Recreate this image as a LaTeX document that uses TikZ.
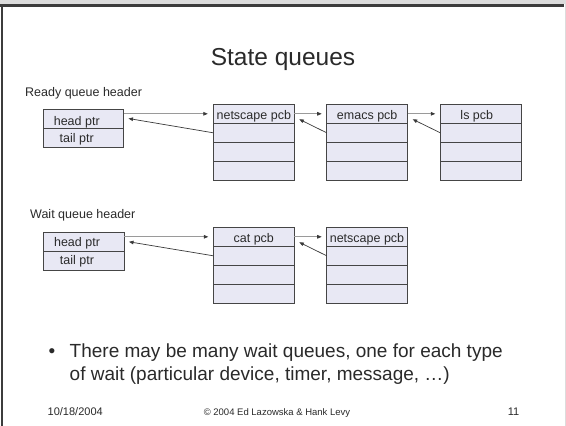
\documentclass[tikz,border=0pt]{standalone}
\usepackage{fontspec}
\setmainfont{Liberation Sans}
\usetikzlibrary{arrows.meta}
\definecolor{framecol}{HTML}{3C3C3C}
\definecolor{stripcol}{HTML}{DCDCDC}
\definecolor{cellfill}{HTML}{E8E8F4}
\definecolor{cellline}{HTML}{454545}
\definecolor{txt}{HTML}{2A2A2A}
\definecolor{fwdline}{HTML}{9A9A9A}
\definecolor{backline}{HTML}{3A3A3A}
\tikzset{
  cell/.style={draw=cellline, line width=0.9pt, fill=cellfill, inner sep=0pt, outer sep=0pt,
    minimum width=81pt, text height=15pt, text depth=4pt, anchor=north west, text=txt,
    font=\fontsize{12.5}{15}\selectfont},
  below cell/.style={cell, anchor=north},
  lbl/.style={inner sep=0pt, text=txt, font=\fontsize{12.5}{15}\selectfont},
  fwd/.style={draw=fwdline, line width=0.8pt, -{Triangle[length=4.5pt,width=3.6pt,color=backline]}},
  back/.style={draw=backline, line width=0.7pt, -{Triangle[length=4.5pt,width=3.6pt]}},
}
\begin{document}
\begin{tikzpicture}[x=1pt,y=-1pt]
\useasboundingbox (0,0) rectangle (566,426);
% slide frame
\fill[white] (0,0) rectangle (566,426);
\fill[stripcol] (0,0) rectangle (566,4);
\fill[stripcol] (564.5,0) rectangle (566,426);
\fill[framecol] (0,4) rectangle (564,7);
\fill[framecol] (0.5,4) rectangle (3,426);

% title
\node[anchor=base, inner sep=0pt, text=txt, font=\fontsize{24.5}{29}\selectfont] (title) at (283,65) {State queues};

% ready queue
\node[lbl, anchor=base west] (rq) at (25,96) {Ready queue header};
\node[cell, minimum width=80.5pt] (rhp) at (43,109) {};
\node[below cell, minimum width=80.5pt] (rtp) at (rhp.south) {};
\node[lbl, anchor=base] (rhpt) at ([xshift=-6.5pt,yshift=-16pt]rhp.north) {head ptr};
\node[lbl, anchor=base] (rtpt) at ([xshift=-6.5pt,yshift=-14pt]rtp.north) {tail ptr};

\node[cell] (r1a) at (213.3,104.3) {netscape pcb};
\node[below cell] (r1b) at (r1a.south) {};
\node[below cell] (r1c) at (r1b.south) {};
\node[below cell] (r1d) at (r1c.south) {};

\node[cell] (r2a) at (326.7,104.3) {emacs pcb};
\node[below cell] (r2b) at (r2a.south) {};
\node[below cell] (r2c) at (r2b.south) {};
\node[below cell] (r2d) at (r2c.south) {};

\node[cell] (r3a) at (440.3,104.3) {\hspace*{-8pt}ls pcb};
\node[below cell] (r3b) at (r3a.south) {};
\node[below cell] (r3c) at (r3b.south) {};
\node[below cell] (r3d) at (r3c.south) {};

\draw[fwd] (rhp.east |- r1a.center) -- ([xshift=-5.5pt]r1a.west);
\draw[back] (r1b.west) -- ([xshift=5pt]rhp.east);
\draw[fwd] (r1a.east) -- ([xshift=-5pt]r2a.west);
\draw[back] (r2b.west) -- ([xshift=5pt,yshift=-5.5pt]r1a.east);
\draw[fwd] (r2a.east) -- ([xshift=-5pt]r3a.west);
\draw[back] (r3b.west) -- ([xshift=5pt,yshift=-5.5pt]r2a.east);

% wait queue
\node[lbl, anchor=base west] (wq) at (30,218.3) {Wait queue header};
\node[cell, minimum width=81pt] (whp) at (43,232.3) {};
\node[below cell, minimum width=81pt] (wtp) at (whp.south) {};
\node[lbl, anchor=base] (whpt) at ([xshift=-6.5pt,yshift=-14.5pt]whp.north) {head ptr};
\node[lbl, anchor=base] (wtpt) at ([xshift=-6.5pt,yshift=-13pt]wtp.north) {tail ptr};

\node[cell] (w1a) at (213.3,227.3) {cat pcb};
\node[below cell] (w1b) at (w1a.south) {};
\node[below cell] (w1c) at (w1b.south) {};
\node[below cell] (w1d) at (w1c.south) {};

\node[cell, minimum width=80.6pt] (w2a) at (326.7,227.3) {netscape pcb};
\node[below cell, minimum width=80.6pt] (w2b) at (w2a.south) {};
\node[below cell, minimum width=80.6pt] (w2c) at (w2b.south) {};
\node[below cell, minimum width=80.6pt] (w2d) at (w2c.south) {};

\draw[fwd] (whp.east |- w1a.center) -- ([xshift=-5pt]w1a.west);
\draw[back] (w1b.west) -- ([xshift=5pt]whp.east);
\draw[fwd] (w1a.east) -- ([xshift=-5pt]w2a.west);
\draw[back] (w2b.west) -- ([xshift=5pt,yshift=-5.5pt]w1a.east);

% bullet text
\node[anchor=base, inner sep=0pt, text=txt, font=\fontsize{19}{23}\selectfont] (bul) at (52,357) {•};
\node[anchor=base west, inner sep=0pt, text=txt, font=\fontsize{19}{23}\selectfont] (l1) at (69.5,357) {There may be many wait queues, one for each type};
\node[anchor=base west, inner sep=0pt, text=txt, font=\fontsize{19}{23}\selectfont] (l2) at (69.5,380.3) {of wait (particular device, timer, message, …)};

% footer
\node[anchor=base west, inner sep=0pt, text=txt, font=\fontsize{11}{13}\selectfont] (date) at (47.5,415.5) {10/18/2004};
\node[anchor=base, inner sep=0pt, text=txt, font=\fontsize{9.5}{11}\selectfont] (copy) at (277,415.5) {© 2004 Ed Lazowska \& Hank Levy};
\node[anchor=base east, inner sep=0pt, text=txt, font=\fontsize{11}{13}\selectfont] (page) at (519.5,415.5) {11};
\end{tikzpicture}
\end{document}
